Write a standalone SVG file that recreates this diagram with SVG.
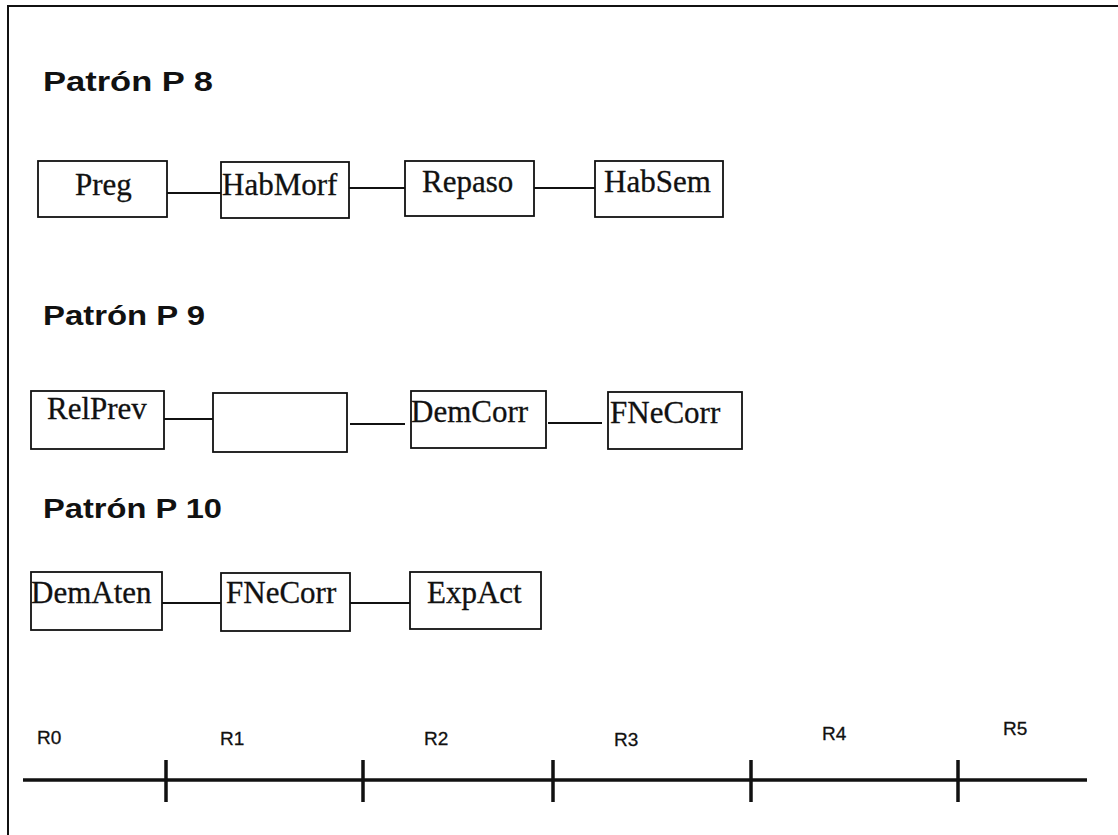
<svg xmlns="http://www.w3.org/2000/svg" width="1118" height="835" viewBox="0 0 1118 835">
<style>
.box{fill:#fff;stroke:#111;stroke-width:1.8}
.lbl{font-family:"Liberation Serif","Times New Roman",serif;font-size:31px;fill:#111;stroke:#111;stroke-width:0.3}
.head{font-family:"Liberation Sans",Arial,sans-serif;font-size:27px;font-weight:bold;fill:#111}
.r{font-family:"Liberation Sans",Arial,sans-serif;font-size:19px;fill:#111;stroke:#111;stroke-width:0.3}
.con{stroke:#111;stroke-width:2.2;fill:none}
.axis{stroke:#111;stroke-width:3.5;fill:none}
.frame{stroke:#111;stroke-width:2;fill:none}
</style>
<rect width="1118" height="835" fill="#fff"/>
<path class="frame" d="M8,835 V6 H1118"/>
<text class="head" x="43" y="91" textLength="170" lengthAdjust="spacingAndGlyphs">Patrón  P 8</text>
<text class="head" x="43" y="325" textLength="162" lengthAdjust="spacingAndGlyphs">Patrón  P 9</text>
<text class="head" x="43" y="518" textLength="179" lengthAdjust="spacingAndGlyphs">Patrón  P 10</text>
<g id="connectors">
<line class="con" x1="167" y1="193" x2="221" y2="193"/>
<line class="con" x1="349" y1="188" x2="405" y2="188"/>
<line class="con" x1="534" y1="188" x2="595" y2="188"/>
<line class="con" x1="164" y1="419" x2="213" y2="419"/>
<line class="con" x1="350" y1="424" x2="405" y2="424"/>
<line class="con" x1="548" y1="423" x2="602" y2="423"/>
<line class="con" x1="162" y1="603" x2="221" y2="603"/>
<line class="con" x1="350" y1="603" x2="410" y2="603"/>
</g>
<g id="n-preg"><rect class="box" x="38" y="161" width="129" height="56"/><text class="lbl" x="75" y="195">Preg</text></g>
<g id="n-habmorf"><rect class="box" x="221" y="162" width="128" height="56"/><text class="lbl" x="222" y="195">HabMorf</text></g>
<g id="n-repaso"><rect class="box" x="405" y="161" width="129" height="55"/><text class="lbl" x="422" y="192">Repaso</text></g>
<g id="n-habsem"><rect class="box" x="595" y="161" width="128" height="56"/><text class="lbl" x="604" y="192">HabSem</text></g>
<g id="n-relprev"><rect class="box" x="31" y="391" width="133" height="58"/><text class="lbl" x="47" y="419">RelPrev</text></g>
<g id="n-empty"><rect class="box" x="213" y="393" width="134" height="59"/></g>
<g id="n-demcorr"><rect class="box" x="411" y="391" width="135" height="57"/><text class="lbl" x="411" y="422">DemCorr</text></g>
<g id="n-fnecorr1"><rect class="box" x="608" y="392" width="134" height="57"/><text class="lbl" x="610" y="423">FNeCorr</text></g>
<g id="n-dematen"><rect class="box" x="31" y="572" width="131" height="58"/><text class="lbl" x="31" y="603">DemAten</text></g>
<g id="n-fnecorr2"><rect class="box" x="221" y="573" width="129" height="58"/><text class="lbl" x="226" y="603">FNeCorr</text></g>
<g id="n-expact"><rect class="box" x="410" y="572" width="131" height="57"/><text class="lbl" x="427" y="603">ExpAct</text></g>
<g id="axis">
<line class="axis" x1="23" y1="780" x2="1087" y2="780"/>
<line class="axis" x1="166" y1="760" x2="166" y2="802"/>
<line class="axis" x1="363" y1="760" x2="363" y2="802"/>
<line class="axis" x1="553" y1="760" x2="553" y2="802"/>
<line class="axis" x1="751" y1="760" x2="751" y2="802"/>
<line class="axis" x1="958" y1="760" x2="958" y2="802"/>
<text class="r" x="37" y="744">R0</text>
<text class="r" x="220" y="745">R1</text>
<text class="r" x="424" y="745">R2</text>
<text class="r" x="614" y="746">R3</text>
<text class="r" x="822" y="740">R4</text>
<text class="r" x="1003" y="735">R5</text>
</g>
</svg>
